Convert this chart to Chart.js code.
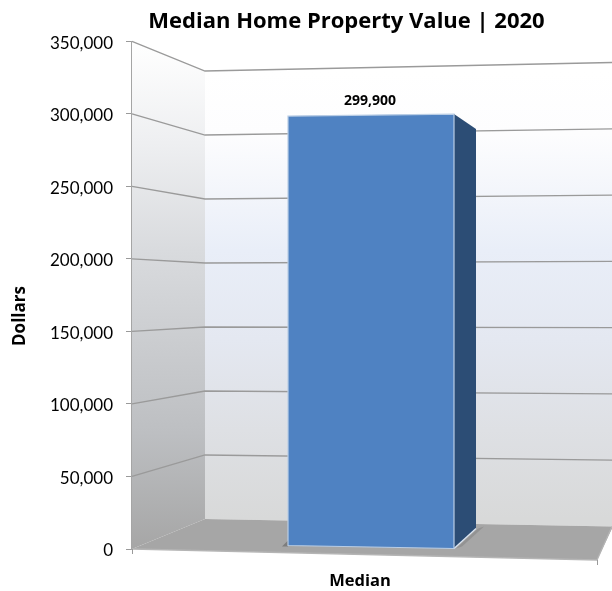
<!DOCTYPE html>
<html>
<head>
<meta charset="utf-8">
<style>html,body{margin:0;padding:0;background:#fff}canvas{display:block}</style>
<script src="https://cdn.jsdelivr.net/npm/chart.js@4"></script>
</head>
<body>
<canvas id="c" width="612" height="591"></canvas>
<script>
const categories = ["Median"];
const seriesValues = [299900];
const tickValues = [0, 50000, 100000, 150000, 200000, 250000, 300000, 350000];
const chartTitle = "Median Home Property Value | 2020";
const yTitle = "Dollars";
const FONT = "'Open Sans', sans-serif";
const TICKFONT = "Lato, sans-serif";

const scene = {
  id: "scene",
  afterLayout(chart) {
    chart.titleBlock.left = 81;
    chart.titleBlock.right = 612;
  },
  beforeDatasetsDraw(chart) {
    const { ctx } = chart;
    const ys = chart.scales.y, xs = chart.scales.x;
    const P = v => ys.getPixelForValue(v);
    const top = P(350000), bot = P(0), h = bot - top;
    const axX = xs.left, bx = axX + 73, W = chart.width;
    const yL = p => 71 + (p - top) / h * 448;
    const yR = p => 62.5 + (p - top) / h * 464;
    const poly = pts => {
      ctx.beginPath();
      pts.forEach((q, i) => i ? ctx.lineTo(q[0], q[1]) : ctx.moveTo(q[0], q[1]));
      ctx.closePath();
    };
    ctx.save();
    // left wall
    let g = ctx.createLinearGradient(0, top, 0, bot);
    g.addColorStop(0, "#ffffff");
    g.addColorStop(0.2, "#eeeff1");
    g.addColorStop(0.41, "#d9dbde");
    g.addColorStop(0.77, "#bdbfc2");
    g.addColorStop(1, "#a6a6a6");
    poly([[axX, top], [bx, yL(top)], [bx, yL(bot)], [axX, bot]]);
    ctx.fillStyle = g; ctx.fill();
    // back wall
    g = ctx.createLinearGradient(0, yL(top), 0, yL(bot));
    g.addColorStop(0, "#ffffff");
    g.addColorStop(0.14, "#fdfdfe");
    g.addColorStop(0.4, "#e9eef8");
    g.addColorStop(0.6, "#e4e8f1");
    g.addColorStop(0.8, "#dee0e4");
    g.addColorStop(1, "#d8d9d9");
    poly([[bx, yL(top)], [W, yR(top)], [W, yR(bot)], [bx, yL(bot)]]);
    ctx.fillStyle = g; ctx.fill();
    // floor
    poly([[axX, bot], [bx, yL(bot)], [W, yR(bot)], [W, yR(bot) + 2], [597, 560]]);
    ctx.fillStyle = "#a6a6a6"; ctx.fill();
    // gridlines on walls
    ctx.strokeStyle = "#9a9a9a"; ctx.lineWidth = 1.3;
    tickValues.forEach(v => {
      if (v === 0) return;
      const p = P(v);
      ctx.beginPath();
      ctx.moveTo(axX, p); ctx.lineTo(bx, yL(p)); ctx.lineTo(W, yR(p));
      ctx.stroke();
    });
    // floor edge
    ctx.strokeStyle = "#b5b5b5";
    ctx.beginPath(); ctx.moveTo(axX, bot); ctx.lineTo(597, 560); ctx.lineTo(W, yR(bot)); ctx.stroke();
    // x axis end ticks
    ctx.strokeStyle = "#9a9a9a"; ctx.lineWidth = 1;
    ctx.beginPath(); ctx.moveTo(597.5, 560); ctx.lineTo(597.5, 565); ctx.stroke();
    ctx.beginPath(); ctx.moveTo(axX + .5, bot); ctx.lineTo(axX + .5, bot + 5); ctx.stroke();

    // bar: shadow and side face derived from bar element
    const bar = chart.getDatasetMeta(0).data[0];
    const l = bar.x - bar.width / 2, r = bar.x + bar.width / 2;
    poly([[r + 2, bar.base], [r + 24, bar.base - 20], [r + 30, bar.base - 22], [r + 8, bar.base - 2]]);
    ctx.fillStyle = "#939393"; ctx.fill();
    poly([[l - 6, bar.base - 2], [l, bar.base - 8], [l, bar.base - 2]]);
    ctx.fillStyle = "#7d7d7d"; ctx.fill();
    poly([[r, bar.y], [r + 22, bar.y + 15], [r + 22, bar.base - 20], [r, bar.base]]);
    ctx.fillStyle = "#2c4d75"; ctx.fill();
    ctx.strokeStyle = "#dce6f2"; ctx.lineWidth = 1.2;
    ctx.beginPath(); ctx.moveTo(r, bar.base); ctx.lineTo(r + 22, bar.base - 20); ctx.stroke();
    ctx.restore();
  },
  beforeDatasetDraw(chart, args) {
    const { ctx } = chart;
    const bar = chart.getDatasetMeta(args.index).data[0];
    const l = bar.x - bar.width / 2, r = bar.x + bar.width / 2;
    ctx.save();
    ctx.beginPath();
    ctx.moveTo(l, bar.y + 2); ctx.lineTo(r, bar.y); ctx.lineTo(r, bar.base); ctx.lineTo(l, bar.base - 3);
    ctx.closePath(); ctx.clip();
  },
  afterDatasetDraw(chart, args) {
    const { ctx } = chart;
    ctx.restore();
    const bar = chart.getDatasetMeta(args.index).data[0];
    const l = bar.x - bar.width / 2, r = bar.x + bar.width / 2;
    ctx.save();
    ctx.strokeStyle = "#b9cde5"; ctx.lineWidth = 1.2;
    ctx.beginPath();
    ctx.moveTo(l, bar.y + 2); ctx.lineTo(r, bar.y); ctx.lineTo(r, bar.base); ctx.lineTo(l, bar.base - 3);
    ctx.closePath(); ctx.stroke();
    ctx.restore();
  },
  afterDraw(chart) {
    const { ctx } = chart;
    const bar = chart.getDatasetMeta(0).data[0];
    ctx.save();
    ctx.fillStyle = "#000";
    ctx.textAlign = "center"; ctx.textBaseline = "middle";
    ctx.font = "bold 14px " + FONT;
    ctx.fillText(seriesValues[0].toLocaleString("en-US"), bar.x - 1, bar.y - 13);
    ctx.translate(20, 316);
    ctx.rotate(-Math.PI / 2);
    ctx.font = "bold 17px " + FONT;
    ctx.fillText(yTitle, 0, 0);
    ctx.restore();
  }
};

new Chart(document.getElementById("c"), {
  type: "bar",
  data: {
    labels: categories,
    datasets: [{
      data: seriesValues,
      backgroundColor: "#4f82c2",
      barThickness: 166,
      borderWidth: 0
    }]
  },
  options: {
    responsive: false,
    animation: false,
    layout: { padding: { right: 2 } },
    plugins: {
      legend: { display: false },
      tooltip: { enabled: false },
      title: {
        display: true,
        text: chartTitle,
        color: "#000",
        font: { family: FONT, size: 22, weight: "bold", lineHeight: 1.2 },
        padding: { top: 9, bottom: 6 }
      }
    },
    scales: {
      x: {
        afterFit: s => { s.height = 42; },
        grid: { display: false },
        border: { display: false },
        ticks: {
          color: "#000",
          font: { family: FONT, size: 16.5, weight: "bold" },
          labelOffset: -11,
          padding: 14
        }
      },
      y: {
        min: 0, max: 350000,
        afterFit: s => { s.width = 132; },
        afterBuildTicks: s => { s.ticks = tickValues.map(value => ({ value })); },
        grid: { drawOnChartArea: false, color: "#9a9a9a", tickLength: 6 },
        border: { color: "#a5a5a5", width: 1.5 },
        ticks: {
          color: "#000",
          font: { family: TICKFONT, size: 17 },
          padding: 13,
          labelOffset: 2,
          callback: v => v.toLocaleString("en-US")
        }
      }
    }
  },
  plugins: [scene]
});
</script>
</body>
</html>
